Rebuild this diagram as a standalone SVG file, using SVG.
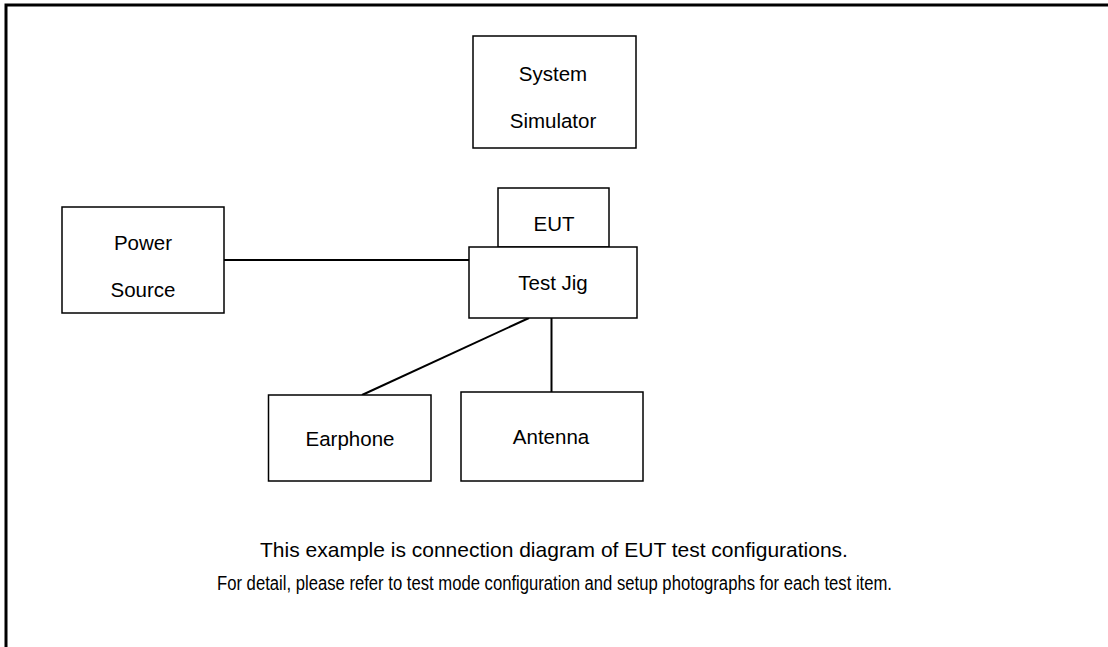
<svg xmlns="http://www.w3.org/2000/svg" width="1108" height="647" viewBox="0 0 1108 647">
<style>
.box{fill:#fff;stroke:#000;stroke-width:1.5}
.t{font-family:"Liberation Sans",Arial,sans-serif;font-size:20.5px;fill:#000;text-anchor:middle}
.c{stroke:#000;stroke-width:2;fill:none}
</style>
<rect x="0" y="0" width="1108" height="647" fill="#fff"/>
<polyline points="6,647 6,5 1108,5" fill="none" stroke="#000" stroke-width="3"/>
<g id="connectors">
<line class="c" x1="224" y1="260" x2="469" y2="260"/>
<line class="c" x1="529" y1="318" x2="362" y2="395"/>
<line class="c" x1="551.5" y1="318" x2="551.5" y2="392"/>
</g>
<g id="system-simulator">
<rect class="box" x="473" y="36" width="163" height="112"/>
<text class="t" x="553" y="81">System</text>
<text class="t" x="553" y="128">Simulator</text>
</g>
<g id="power-source">
<rect class="box" x="62" y="207" width="162" height="106"/>
<text class="t" x="143" y="250">Power</text>
<text class="t" x="143" y="297">Source</text>
</g>
<g id="eut">
<rect class="box" x="498" y="188" width="111" height="59"/>
<text class="t" x="554" y="231">EUT</text>
</g>
<g id="test-jig">
<rect class="box" x="469" y="247" width="168" height="71"/>
<text class="t" x="553" y="290">Test Jig</text>
</g>
<g id="earphone">
<rect class="box" x="268.5" y="395" width="162.5" height="86"/>
<text class="t" x="350" y="446">Earphone</text>
</g>
<g id="antenna">
<rect class="box" x="461" y="392" width="182" height="89"/>
<text class="t" x="551" y="444">Antenna</text>
</g>
<g id="notes">
<text class="t" x="554" y="557" style="font-size:21px">This example is connection diagram of EUT test configurations.</text>
<text class="t" x="554.5" y="590" style="font-size:20px" textLength="675" lengthAdjust="spacingAndGlyphs">For detail, please refer to test mode configuration and setup photographs for each test item.</text>
</g>
</svg>
